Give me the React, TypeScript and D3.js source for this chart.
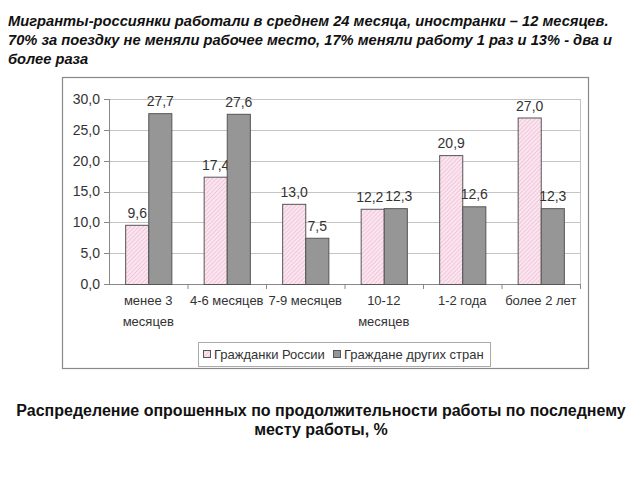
import React from "react";
import * as d3 from "d3";

const categories: string[][] = [
  ["менее 3", "месяцев"],
  ["4-6 месяцев"],
  ["7-9 месяцев"],
  ["10-12", "месяцев"],
  ["1-2 года"],
  ["более 2 лет"],
];
const seriesNames = ["Гражданки России", "Граждане других стран"];
const russia = [9.6, 17.4, 13.0, 12.2, 20.9, 27.0];
const foreign = [27.7, 27.6, 7.5, 12.3, 12.6, 12.3];
const yTicks = [0, 5, 10, 15, 20, 25, 30];
const titleLines = [
  "Мигранты-россиянки работали в среднем 24 месяца, иностранки – 12 месяцев.",
  "70% за поездку не меняли рабочее место, 17% меняли работу 1 раз и 13% - два и",
  "более раза",
];
const captionLines = [
  "Распределение опрошенных по продолжительности работы по последнему",
  "месту работы, %",
];

const fmt = (v: number) => v.toFixed(1).replace(".", ",");

export default function App() {
  const W = 640, H = 480;
  const plot = { left: 109, right: 580, top: 99, bottom: 284 };
  const keys = categories.map((_, i) => String(i));
  const x0 = d3.scaleBand().domain(keys).range([plot.left, plot.right]).paddingInner(0);
  const x1 = d3.scaleBand().domain(["0", "1"]).range([0, x0.bandwidth()]).paddingInner(0).paddingOuter(0.7);
  const y = d3.scaleLinear().domain([0, 30]).range([plot.bottom, plot.top]);
  const series = [russia, foreign];
  const font = "'Liberation Sans', Arial, sans-serif";
  const labelW = 25;

  return (
    <svg width={W} height={H} style={{ position: "absolute", left: 0, top: 0, background: "#fff" }} fontFamily={font}>
      <defs>
        <pattern id="hatch" patternUnits="userSpaceOnUse" width="3" height="3" patternTransform="rotate(45)">
          <rect width="3" height="3" fill="#fbe6f0" />
          <line x1="0" y1="0" x2="0" y2="3" stroke="#e6a8c4" strokeWidth="1" />
        </pattern>
      </defs>
      {titleLines.map((t, i) => (
        <text key={i} x={8} y={26 + i * 19} fontSize={14.7} fontWeight="bold" fontStyle="italic" fill="#111">{t}</text>
      ))}
      <rect x={62.5} y={77.5} width={526} height={291} fill="#fff" stroke="#888" strokeWidth={1.2} />
      {yTicks.map((t) => (
        <g key={t}>
          <line x1={plot.left} x2={plot.right} y1={Math.round(y(t)) + 0.5} y2={Math.round(y(t)) + 0.5} stroke={t === 0 ? "#888" : "#c4c4c4"} />
          <line x1={plot.left - 5} x2={plot.left} y1={Math.round(y(t)) + 0.5} y2={Math.round(y(t)) + 0.5} stroke="#888" />
          <text x={plot.left - 9} y={y(t)} dy="0.35em" textAnchor="end" fontSize={14} fill="#333">{fmt(t)}</text>
        </g>
      ))}
      <line x1={plot.right + 0.5} x2={plot.right + 0.5} y1={plot.top} y2={plot.bottom} stroke="#c4c4c4" />
      <line x1={plot.left + 0.5} x2={plot.left + 0.5} y1={plot.top} y2={plot.bottom} stroke="#888" />
      {keys.map((k) => (
        <line key={k} x1={x0(k)! + x0.bandwidth() + 0.5} x2={x0(k)! + x0.bandwidth() + 0.5} y1={plot.bottom} y2={plot.bottom + 5} stroke="#888" />
      ))}
      {keys.map((k, i) => {
        const cx = series.map((_, j) => x0(k)! + x1(String(j))! + x1.bandwidth() / 2 + 0.5);
        const ly = series.map((s) => y(s[i]) - 7);
        if (Math.abs(ly[0] - ly[1]) < 14) {
          const overlap = labelW + 4 - (cx[1] - cx[0]);
          if (overlap > 0) {
            cx[0] -= overlap / 2;
            cx[1] += overlap / 2;
          }
        }
        return (
          <g key={k}>
            {series.map((s, j) => {
              const bx = x0(k)! + x1(String(j))!;
              const by = y(s[i]);
              return (
                <g key={j}>
                  <rect x={bx + 0.5} y={by + 0.5} width={x1.bandwidth()} height={plot.bottom - by} fill={j === 0 ? "url(#hatch)" : "#969696"} stroke="#555" strokeWidth={1} />
                  <text x={cx[j]} y={ly[j]} textAnchor="middle" fontSize={14} fill="#333">{fmt(s[i])}</text>
                </g>
              );
            })}
            {categories[i].map((line, li) => (
              <text key={li} x={x0(k)! + x0.bandwidth() / 2} y={305 + li * 21} textAnchor="middle" fontSize={13} fill="#333">{line}</text>
            ))}
          </g>
        );
      })}
      <rect x={198.5} y={342.5} width={292} height={24} fill="#fff" stroke="#aaa" />
      <rect x={203.5} y={350.5} width={7} height={7} fill="url(#hatch)" stroke="#555" />
      <text x={214} y={359} fontSize={13} fill="#333">{seriesNames[0]}</text>
      <rect x={333.5} y={350.5} width={7} height={7} fill="#969696" stroke="#555" />
      <text x={344} y={359} fontSize={13} fill="#333">{seriesNames[1]}</text>
      {captionLines.map((t, i) => (
        <text key={i} x={321} y={416 + i * 19} textAnchor="middle" fontSize={16} fontWeight="bold" fill="#111">{t}</text>
      ))}
    </svg>
  );
}
